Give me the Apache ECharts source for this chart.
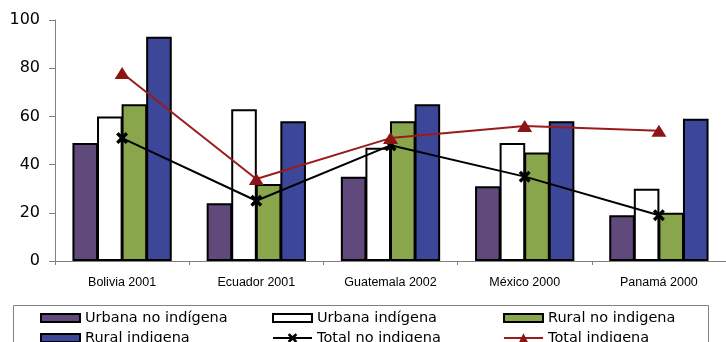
<!DOCTYPE html>
<html>
<head>
<meta charset="utf-8">
<script src="https://cdn.jsdelivr.net/npm/echarts@6/dist/echarts.min.js"></script>
<style>
  html, body { margin: 0; padding: 0; background: #fff; }
  #chart { width: 726px; height: 342px; }
</style>
</head>
<body>
<div id="chart"></div>
<script>
// Data
const countries = ['Bolivia 2001', 'Ecuador 2001', 'Guatemala 2002', 'México 2000', 'Panamá 2000'];
const urbanaNoIndigena = [49, 24, 35, 31, 19];
const urbanaIndigena = [60, 63, 47, 49, 30];
const ruralNoIndigena = [65, 32, 58, 45, 20];
const ruralIndigena = [93, 58, 65, 58, 59];
const totalNoIndigena = [51, 25, 48, 35, 19];
const totalIndigena = [78, 34, 51, 56, 54];
const yTicks = [0, 20, 40, 60, 80, 100];

const chartDom = document.getElementById('chart');
const myChart = echarts.init(chartDom, null, { renderer: 'canvas' });

const font = 'DejaVu Sans';
const crossPath = 'path://M2,0 L5,3 L8,0 L10,2 L7,5 L10,8 L8,10 L5,7 L2,10 L0,8 L3,5 L0,2 Z';

function barSeries(name, data, color) {
    return {
        name: name,
        type: 'bar',
        data: data,
        barGap: '-4%',
        barCategoryGap: '26%',
        itemStyle: { color: color, borderColor: '#000', borderWidth: 2, borderRadius: 0 },
        emphasis: { disabled: true }
    };
}

// one legend per item so the 3x2 grid sits like the reference
function legendItem(name, left, top, isBar) {
    return {
        left: left, top: top,
        itemWidth: 39, itemHeight: isBar ? 8 : 12,
        icon: isBar ? 'rect' : undefined,
        selectedMode: false,
        textStyle: { color: '#000', fontFamily: font, fontSize: 14.5, lineHeight: 16 },
        data: [name]
    };
}

const option = {
    animation: false,
    textStyle: { fontFamily: font },
    grid: { left: 55, right: 0, top: 20, bottom: 81, containLabel: false },
    graphic: [{
        type: 'rect',
        left: 11, top: 303,
        shape: { width: 695, height: 50 },
        style: { fill: 'none', stroke: '#808080', lineWidth: 1 },
        silent: true
    }],
    legend: [
        legendItem('Urbana no indígena', 35, 305, true),
        legendItem('Rural indigena', 35, 325, true),
        legendItem('Urbana indígena', 267, 305, true),
        legendItem('Total no indigena', 267, 325, false),
        legendItem('Rural no indigena', 498, 305, true),
        legendItem('Total indigena', 498, 325, false)
    ],
    xAxis: {
        type: 'category',
        data: countries,
        axisLine: { lineStyle: { color: '#808080', width: 1 } },
        axisTick: { show: true, alignWithLabel: false, length: 4, lineStyle: { color: '#808080' } },
        axisLabel: { color: '#000', fontFamily: 'Liberation Sans', fontSize: 12.5, margin: 15 }
    },
    yAxis: {
        type: 'value',
        min: yTicks[0],
        max: yTicks[yTicks.length - 1],
        interval: 20,
        axisLine: { show: true, lineStyle: { color: '#808080', width: 1 } },
        axisTick: { show: true, length: 6, lineStyle: { color: '#808080' } },
        splitLine: { show: false },
        axisLabel: { color: '#000', fontFamily: font, fontSize: 16, margin: 15 }
    },
    series: [
        barSeries('Urbana no indígena', urbanaNoIndigena, '#604A7B'),
        barSeries('Urbana indígena', urbanaIndigena, '#FFFFFF'),
        barSeries('Rural no indigena', ruralNoIndigena, '#8AA64C'),
        barSeries('Rural indigena', ruralIndigena, '#3C479A'),
        {
            name: 'Total no indigena',
            type: 'line',
            data: totalNoIndigena,
            symbol: crossPath,
            symbolSize: 12,
            z: 5,
            lineStyle: { color: '#000', width: 2 },
            itemStyle: { color: '#000' },
            emphasis: { disabled: true }
        },
        {
            name: 'Total indigena',
            type: 'line',
            data: totalIndigena,
            symbol: 'triangle',
            symbolSize: [15, 12],
            z: 5,
            lineStyle: { color: '#9B1B1B', width: 2 },
            itemStyle: { color: '#8B1515' },
            emphasis: { disabled: true }
        }
    ]
};

myChart.setOption(option);
window.addEventListener('resize', () => myChart.resize());
</script>
</body>
</html>
